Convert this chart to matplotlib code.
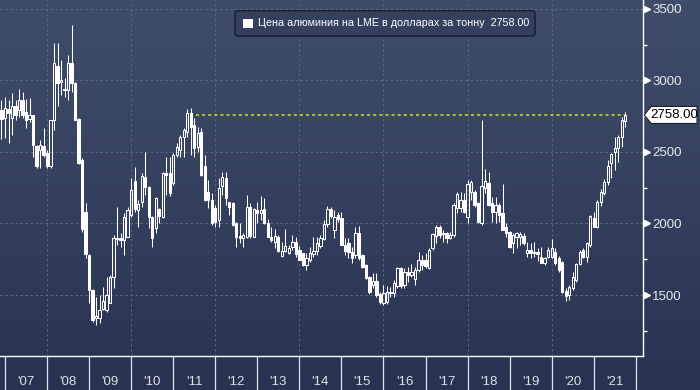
import numpy as np
import pandas as pd
import matplotlib
matplotlib.use("Agg")
import matplotlib.pyplot as plt
from matplotlib.patches import FancyBboxPatch, Rectangle, Polygon
from matplotlib.transforms import IdentityTransform, blended_transform_factory

# ---------------- data (monthly OHLC, LME aluminium, USD/t) ----------------
months = pd.period_range("2006-11", "2021-09", freq="M")

open_ = [
    2790, 2734,
    2800, 2740, 2820, 2790, 2860, 2780, 2727, 2758, 2540, 2513, 2540, 2490,
    2400, 2720, 3100, 2990, 2940, 2932, 3118, 2979, 2730, 2440, 2080, 1780,
    1535, 1337, 1337, 1400, 1396, 1442, 1628, 1900, 1896, 1884, 1908, 2059,
    2300, 2094, 2152, 2327, 2257, 2047, 1966, 2100, 2047, 2350, 2350, 2280,
    2478, 2513, 2602, 2641, 2770, 2688, 2532, 2640, 2400, 2222, 2164, 2106,
    2024, 2262, 2320, 2150, 2141, 2006, 1910, 1900, 1908, 2117, 1908, 2094,
    2075, 2099, 2006, 1908, 1873, 1908, 1773, 1810, 1796, 1838, 1873, 1815,
    1791, 1710, 1745, 1787, 1810, 1843, 1889, 1996, 2100, 1954, 2060, 2036,
    1850, 1866, 1803, 1780, 1931, 1780, 1710, 1628, 1570, 1600, 1510, 1447,
    1454, 1512, 1512, 1560, 1687, 1570, 1663, 1640, 1610, 1675, 1745, 1745,
    1687, 1826, 1913, 1978, 1926, 1936, 1900, 1919, 2106, 2106, 2164, 2047,
    2222, 2222, 2141, 2001, 2245, 2280, 2145, 2082, 2129, 2071, 1978, 1943,
    1861, 1908, 1908, 1910, 1791, 1815, 1791, 1800, 1768, 1722, 1768, 1768,
    1803, 1757, 1733, 1530, 1500, 1547, 1605, 1717, 1815, 1768, 1850, 2036,
    1978, 2152, 2215, 2290, 2425, 2501, 2525, 2601, 2718,
]
high = [
    2860, 2886,
    2862, 2909, 2862, 2937, 2920, 2870, 2874, 2760, 2548, 2583, 2664, 2513,
    2725, 3258, 3258, 3142, 3014, 3177, 3386, 2990, 2740, 2460, 2140, 1790,
    1540, 1489, 1500, 1558, 1628, 1640, 1919, 2117, 1931, 2070, 2117, 2315,
    2397, 2164, 2350, 2501, 2260, 2050, 2187, 2106, 2362, 2467, 2467, 2490,
    2560, 2618, 2664, 2797, 2804, 2734, 2676, 2664, 2478, 2304, 2210, 2129,
    2315, 2362, 2360, 2152, 2150, 2010, 2001, 1931, 2199, 2140, 2106, 2152,
    2192, 2176, 2030, 1978, 1959, 1920, 1873, 1959, 1850, 1920, 1908, 1843,
    1795, 1791, 1838, 1908, 1903, 1920, 2024, 2122, 2113, 2094, 2082, 2082,
    1896, 1896, 1838, 1978, 1982, 1790, 1715, 1630, 1652, 1657, 1524, 1570,
    1560, 1559, 1605, 1698, 1698, 1687, 1698, 1717, 1698, 1803, 1780, 1796,
    1826, 1931, 1989, 1990, 1954, 1943, 1943, 2141, 2222, 2222, 2210, 2304,
    2304, 2234, 2150, 2723, 2378, 2362, 2183, 2187, 2145, 2276, 2006, 1950,
    1936, 1943, 1943, 1935, 1873, 1861, 1873, 1830, 1838, 1768, 1838, 1889,
    1826, 1770, 1740, 1547, 1570, 1663, 1722, 1815, 1826, 1873, 2059, 2082,
    2164, 2238, 2310, 2443, 2490, 2606, 2618, 2746, 2776,
]
low = [
    2590, 2595,
    2560, 2618, 2720, 2746, 2734, 2665, 2711, 2466, 2385, 2385, 2466, 2385,
    2385, 2653, 2820, 2897, 2886, 2862, 2920, 2720, 2415, 1943, 1756, 1442,
    1315, 1291, 1302, 1396, 1384, 1442, 1547, 1850, 1838, 1780, 1908, 2047,
    2082, 1978, 2117, 2200, 1966, 1838, 1931, 2001, 2036, 2199, 2192, 2268,
    2467, 2467, 2467, 2606, 2478, 2467, 2502, 2330, 2160, 2106, 1989, 1978,
    1978, 2200, 2130, 2060, 1985, 1838, 1861, 1838, 1896, 1900, 1905, 2001,
    2024, 1999, 1905, 1873, 1826, 1800, 1768, 1800, 1790, 1815, 1768, 1745,
    1705, 1675, 1733, 1768, 1780, 1826, 1884, 1978, 2040, 1896, 2013, 1850,
    1780, 1757, 1722, 1757, 1745, 1690, 1610, 1505, 1550, 1489, 1440, 1430,
    1440, 1489, 1489, 1547, 1547, 1547, 1594, 1628, 1570, 1663, 1675, 1687,
    1680, 1815, 1861, 1900, 1873, 1861, 1890, 1908, 2075, 2082, 2071, 2001,
    2164, 2117, 2001, 1989, 2210, 2120, 2013, 2006, 2013, 1954, 1908, 1830,
    1796, 1826, 1850, 1850, 1768, 1757, 1768, 1740, 1722, 1710, 1757, 1757,
    1710, 1660, 1512, 1455, 1466, 1535, 1594, 1710, 1757, 1733, 1838, 1975,
    1966, 2122, 2199, 2270, 2315, 2373, 2432, 2536, 2676,
]
close = [
    2730, 2804,
    2770, 2820, 2760, 2860, 2760, 2720, 2758, 2550, 2400, 2548, 2480, 2400,
    2720, 3118, 2980, 3000, 2935, 3118, 2980, 2723, 2420, 1960, 1790, 1535,
    1326, 1354, 1396, 1460, 1500, 1628, 1896, 1890, 1884, 2047, 2094, 2234,
    2100, 2136, 2332, 2257, 2047, 1900, 2176, 2050, 2355, 2340, 2210, 2478,
    2532, 2602, 2653, 2774, 2676, 2525, 2634, 2339, 2164, 2164, 2000, 2013,
    2245, 2327, 2180, 2117, 1989, 1908, 1900, 1920, 2117, 1910, 2099, 2075,
    2094, 2001, 1908, 1885, 1913, 1805, 1810, 1840, 1826, 1873, 1790, 1745,
    1710, 1757, 1791, 1810, 1861, 1896, 1996, 2099, 2050, 2047, 2030, 1850,
    1810, 1803, 1760, 1931, 1760, 1698, 1617, 1524, 1600, 1500, 1454, 1512,
    1524, 1524, 1582, 1687, 1560, 1663, 1640, 1660, 1675, 1745, 1710, 1700,
    1815, 1926, 1978, 1920, 1936, 1900, 1920, 2129, 2206, 2164, 2080, 2276,
    2292, 2129, 2013, 2262, 2299, 2129, 2082, 2129, 2060, 1954, 1931, 1838,
    1919, 1931, 1926, 1860, 1815, 1791, 1800, 1790, 1726, 1757, 1815, 1826,
    1722, 1675, 1524, 1490, 1559, 1629, 1717, 1803, 1768, 1861, 2052, 1978,
    2152, 2222, 2290, 2401, 2485, 2525, 2601, 2723, 2758,
]

year_labels = ["'07", "'08", "'09", "'10", "'11", "'12", "'13", "'14",
               "'15", "'16", "'17", "'18", "'19", "'20", "'21"]
label_years = list(range(2007, 2022))
y_ticks = [1500, 2000, 2500, 3000, 3500]
y_minor = [1250, 1750, 2250, 2750, 3250]
last_price = 2758.00
legend_label = "Цена алюминия на LME в долларах за тонну"
line_start = 2011.54   # start of the dotted reference line

# ---------------- figure ----------------
W, H = 700, 390
FONT = "Liberation Sans"
plt.rcParams["font.family"] = [FONT, "DejaVu Sans"]

fig = plt.figure(figsize=(W / 100, H / 100), dpi=100)

# gradient background
bg = fig.add_axes([0, 0, 1, 1], zorder=-10)
top_c = np.array([63, 77, 107]) / 255
bot_c = np.array([41, 51, 81]) / 255
g = np.linspace(0, 1, 256)[:, None, None]
img = top_c + (bot_c - top_c) * g
bg.imshow(img, aspect="auto", extent=[0, 1, 0, 1], origin="upper")
bg.axis("off")

ax_right_px = 642.7
ax_bottom_px = 356
ax = fig.add_axes([0, (H - ax_bottom_px) / H, ax_right_px / W, ax_bottom_px / H])
ax.patch.set_alpha(0)
ax.set_xlim(2006.881, 2022.165)
ax.set_ylim(1074, 3561)

# grid
grid_c = "#5e6b88"
for yr in range(2008, 2021, 2):
    ax.axvline(yr, color=grid_c, lw=0.6, ls=(0, (3, 3)), zorder=0.5)
for v in y_ticks:
    ax.axhline(v, color=grid_c, lw=0.6, ls=(0, (3, 3)), zorder=0.5)

# candles
t = np.array([p.year + p.month / 12 for p in months])
O = np.array(open_, float)
Hh = np.array(high, float)
L = np.array(low, float)
C = np.array(close, float)
up = C >= O
lo = np.minimum(O, C)
hi = np.maximum(O, C)
bh = np.maximum(hi - lo, 5)
lw = 0.75
ax.vlines(t, hi, Hh, color="white", lw=lw, zorder=3)
ax.vlines(t, L, lo, color="white", lw=lw, zorder=3)
bw = 0.055
ax.bar(t[up], bh[up], bottom=lo[up], width=bw, facecolor="none",
       edgecolor="white", lw=lw, zorder=3)
ax.bar(t[~up], bh[~up], bottom=lo[~up], width=bw, facecolor="white",
       edgecolor="white", lw=lw, zorder=3)

# dotted reference line at last price
ax.hlines(last_price, line_start, t[-1], color="#dce025", lw=1.1,
          ls=(0, (2, 2)), zorder=2)

# spines
for s in ["left", "top"]:
    ax.spines[s].set_visible(False)
for s in ["bottom", "right"]:
    ax.spines[s].set_color("white")
    ax.spines[s].set_linewidth(1.0)

# x axis: year separators + labels
ax.set_xticks(range(2007, 2023))
ax.set_xticklabels([])
ax.tick_params(axis="x", which="major", length=34 * 0.72, width=0.9,
               color="#dfe3ea", direction="out")
bt = blended_transform_factory(ax.transData, ax.transAxes)
for yr, lab in zip(label_years, year_labels):
    ax.text(yr + 0.5, -25.7 / ax_bottom_px, lab, transform=bt, ha="center",
            va="center", fontsize=9.5, color="#dde1ea")

# y axis on right
ax.yaxis.tick_right()
ax.set_yticks(y_ticks)
ax.set_yticklabels([str(v) for v in y_ticks])
ax.set_yticks(y_minor, minor=True)
ax.tick_params(axis="y", which="major", length=0, pad=6.8, labelsize=9.5,
               labelcolor="#e6e9ef")
ax.tick_params(axis="y", which="minor", length=3, width=1.0, color="white",
               direction="out")
ax.tick_params(axis="x", which="minor", length=0)
bty = blended_transform_factory(ax.transAxes, ax.transData)
ax.plot([1.006] * len(y_ticks), y_ticks, transform=bty, clip_on=False,
        ls="none", marker=">", ms=4.5, mfc="white", mec="white", zorder=5)

fig.canvas.draw()

# price tag on the right
y_pix = ax.transData.transform((0, last_price))[1]
x0 = ax_right_px + 1.5
tag = Polygon([(x0, y_pix), (x0 + 7, y_pix + 8.5), (W - 3, y_pix + 8.5),
               (W - 3, y_pix - 8.5), (x0 + 7, y_pix - 8.5)],
              closed=True, facecolor="white", edgecolor="#222222", lw=0.8,
              transform=IdentityTransform(), zorder=6)
fig.patches.append(tag)
fig.text((x0 + 7 + W - 3) / 2 / W, y_pix / H, f"{last_price:.2f}", ha="center",
         va="center", fontsize=9.5, color="black", zorder=7)

# legend box
lx0, lx1 = 235, 535
ly_top, ly_bot = 10.7, 36
box = FancyBboxPatch((lx0, H - ly_bot), lx1 - lx0, ly_bot - ly_top,
                     boxstyle="round,pad=0,rounding_size=3",
                     facecolor="#34405d", edgecolor="#161c2a", lw=1.0,
                     transform=IdentityTransform(), zorder=6)
fig.patches.append(box)
sq = Rectangle((243, H - 28.3), 9.5, 9, facecolor="white", edgecolor="none",
               transform=IdentityTransform(), zorder=7)
fig.patches.append(sq)
txt = fig.text(258.5 / W, 1 - 23.5 / H, f"{legend_label}  {last_price:.2f}",
               ha="left", va="center", fontsize=8.5, color="white", zorder=7)
fig.canvas.draw()
wpx = txt.get_window_extent().width
txt.set_fontsize(8.5 * 271 / wpx)

fig.savefig("out.png", dpi=100)
